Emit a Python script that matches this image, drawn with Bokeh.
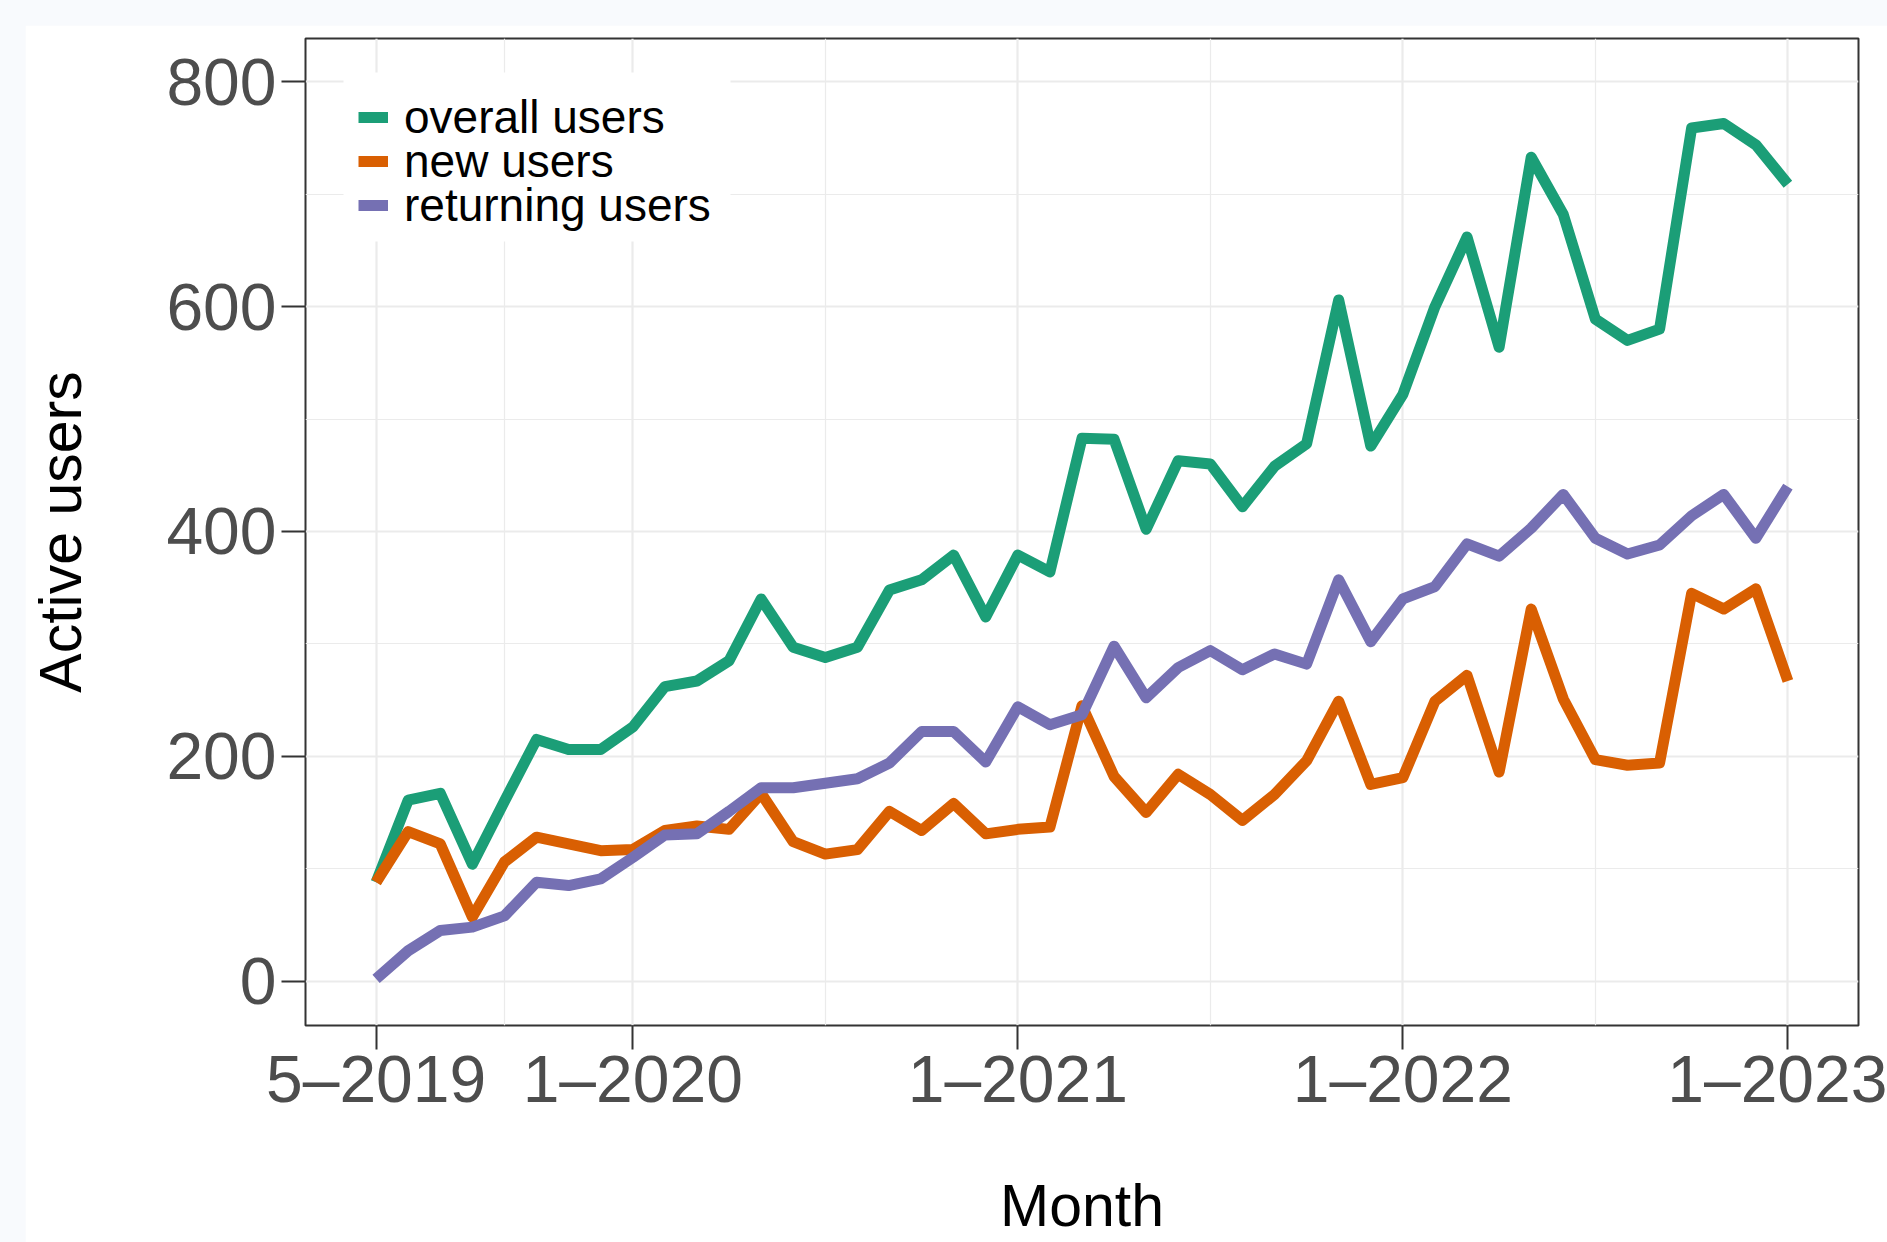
from bokeh.plotting import figure
from bokeh.models import Range1d, FixedTicker, Legend, LegendItem, BoxAnnotation
from bokeh.layouts import column
from bokeh.embed import file_html
from bokeh.resources import INLINE

# ---- data (monthly, May 2019 .. Jan 2023) ----
months = [
    "5-2019", "6-2019", "7-2019", "8-2019", "9-2019", "10-2019", "11-2019", "12-2019",
    "1-2020", "2-2020", "3-2020", "4-2020", "5-2020", "6-2020", "7-2020", "8-2020",
    "9-2020", "10-2020", "11-2020", "12-2020",
    "1-2021", "2-2021", "3-2021", "4-2021", "5-2021", "6-2021", "7-2021", "8-2021",
    "9-2021", "10-2021", "11-2021", "12-2021",
    "1-2022", "2-2022", "3-2022", "4-2022", "5-2022", "6-2022", "7-2022", "8-2022",
    "9-2022", "10-2022", "11-2022", "12-2022",
    "1-2023",
]
overall_users = [
    88, 161, 167, 104, 160, 215, 206, 206, 226, 262, 267, 285, 340, 297, 288, 297,
    348, 357, 379, 324, 379, 364, 483, 482, 402, 463, 460, 422, 458, 478, 606, 476,
    522, 600, 662, 564, 733, 682, 589, 570, 580, 759, 763, 744, 709,
]
new_users = [
    88, 133, 122, 57, 106, 128, 122, 116, 117, 134, 138, 135, 167, 124, 113, 117,
    151, 134, 158, 131, 135, 137, 245, 182, 150, 184, 166, 143, 166, 196, 249, 175,
    181, 249, 272, 186, 331, 251, 197, 192, 194, 345, 331, 349, 267,
]
returning_users = [
    2, 27, 45, 48, 58, 88, 85, 91, 110, 130, 131, 151, 172, 172, 176, 180,
    194, 222, 222, 195, 244, 228, 237, 298, 252, 279, 294, 277, 291, 282, 357, 302,
    340, 351, 389, 378, 403, 433, 394, 380, 388, 414, 433, 394, 440,
]
series_names = ["overall users", "new users", "returning users"]
series_colors = ["#1B9E77", "#D95F02", "#7570B3"]

x_tick_labels = {0: "5–2019", 8: "1–2020", 20: "1–2021", 32: "1–2022", 44: "1–2023"}
x_minor = [4, 14, 26, 38]
y_ticks = [0, 200, 400, 600, 800]
y_minor = [100, 300, 500, 700]

x = list(range(len(months)))

FONT = "Liberation Sans"

p = figure(
    width=1862, height=1217,
    output_backend="svg", toolbar_location=None,
    x_range=Range1d(-2.2, 46.2), y_range=Range1d(-39.5, 838.6),
    min_border_left=280, min_border_right=29, min_border_top=13, min_border_bottom=217,
    margin=(25, 0, 0, 25),
    background_fill_color="white", border_fill_color="white",
)
p.outline_line_color = "#333333"
p.outline_line_width = 2

renderers = []
for vals, col in zip([overall_users, new_users, returning_users], series_colors):
    r = p.line(x, vals, line_color=col, line_width=11, line_join="round", line_cap="butt")
    renderers.append(r)

# axes
p.xaxis.ticker = FixedTicker(ticks=list(x_tick_labels.keys()), minor_ticks=x_minor)
p.xaxis.major_label_overrides = x_tick_labels
p.yaxis.ticker = FixedTicker(ticks=y_ticks, minor_ticks=y_minor)

for ax in (p.xaxis[0], p.yaxis[0]):
    ax.axis_line_color = None
    ax.major_tick_line_color = "#333333"
    ax.major_tick_line_width = 2
    ax.major_tick_in = 0
    ax.major_tick_out = 24
    ax.minor_tick_line_color = None
    ax.major_label_text_font = FONT
    ax.major_label_text_font_size = "66px"
    ax.major_label_text_color = "#4D4D4D"
    ax.axis_label_text_font = FONT
    ax.axis_label_text_font_size = "59px"
    ax.axis_label_text_font_style = "normal"
    ax.axis_label_text_color = "#000000"

p.xaxis.axis_label = "Month"
p.yaxis.axis_label = "Active users"
p.xaxis.major_label_standoff = -8
p.xaxis.axis_label_standoff = 54
p.yaxis.major_label_standoff = 5
p.yaxis.axis_label_standoff = 69

# grid
for g in (p.xgrid[0], p.ygrid[0]):
    g.grid_line_color = "#EBEBEB"
    g.grid_line_width = 2.2
    g.minor_grid_line_color = "#EBEBEB"
    g.minor_grid_line_width = 1.2

# white legend backdrop (hides grid lines behind the legend, like the original)
backdrop = BoxAnnotation(
    left=318, right=705, top=47, bottom=216,
    left_units="canvas", right_units="canvas", top_units="canvas", bottom_units="canvas",
    fill_color="white", fill_alpha=1.0, line_color=None, level="underlay",
)
p.add_layout(backdrop)

# legend: one single-entry legend per series, stacked tightly (ggplot-like spacing)
legend_x = 53
legend_bottoms = [881, 837, 793]
for name, r, yb in zip(series_names, renderers, legend_bottoms):
    lg = Legend(items=[LegendItem(label=name, renderers=[r])], location=(legend_x, yb))
    lg.margin = 0
    lg.padding = 0
    lg.spacing = 0
    lg.glyph_width = 30
    lg.glyph_height = 20
    lg.label_standoff = 16
    lg.label_text_font = FONT
    lg.label_text_font_size = "46px"
    lg.label_text_color = "#000000"
    lg.border_line_color = None
    lg.background_fill_color = "white"
    lg.background_fill_alpha = 1.0
    p.add_layout(lg)

root = column(p, width=1887, height=1242, styles={"background-color": "#f8fafd"})

open("out.html", "w").write(file_html(root, INLINE))
